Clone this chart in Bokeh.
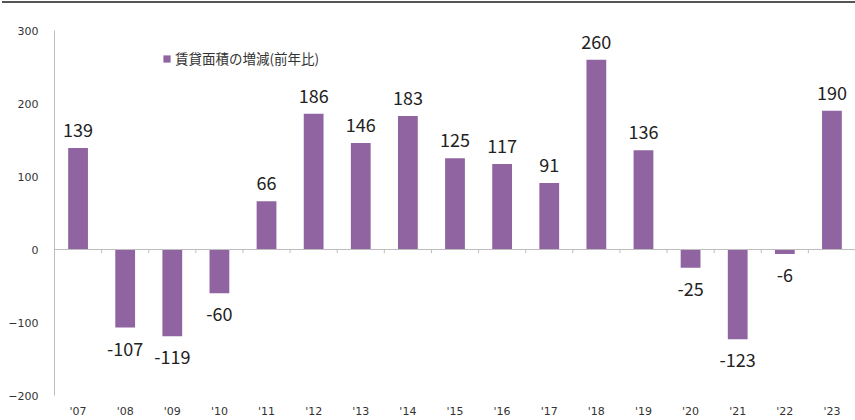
from bokeh.plotting import figure
from bokeh.models import ColumnDataSource, Range1d, FixedTicker, Legend, LegendItem, Span, Div
from bokeh.layouts import column
from bokeh.core.properties import value
from bokeh.embed import file_html
from bokeh.resources import INLINE

years = ["'07", "'08", "'09", "'10", "'11", "'12", "'13", "'14", "'15", "'16",
         "'17", "'18", "'19", "'20", "'21", "'22", "'23"]
changes = [139, -107, -119, -60, 66, 186, 146, 183, 125, 117, 91, 260, 136, -25, -123, -6, 190]
y_ticks = [-200, -100, 0, 100, 200, 300]
series_name = "賃貸面積の増減(前年比)"

BAR = "#8f64a1"
xs = list(range(len(years)))
src = ColumnDataSource(dict(
    x=xs, v=changes, lbl=[str(v) for v in changes],
    off=[-11 if v >= 0 else 14 for v in changes],
    base=["bottom" if v >= 0 else "top" for v in changes],
))

p = figure(width=855, height=412, output_backend="svg", toolbar_location=None,
           x_range=Range1d(-0.5, len(years) - 0.5), y_range=Range1d(-200, 300),
           min_border_left=54, min_border_right=0, min_border_top=22, min_border_bottom=25)
p.outline_line_color = None
p.grid.visible = False
p.background_fill_color = "white"

r = p.vbar(x="x", top="v", bottom=0, width=0.42, source=src, fill_color=BAR, line_color=None)
p.text(x="x", y="v", text="lbl", source=src, text_align="center", text_baseline="base",
       y_offset="off", text_font=value("Noto Sans CJK JP"), text_font_size="18px",
       text_color="#222222")

# zero line
p.add_layout(Span(location=0, dimension="width", line_color="#bdbdbd", line_width=1.2))
# small category boundary ticks below zero line
bx = [i + 0.5 for i in range(len(years) - 1)]
p.segment(x0=bx, x1=bx, y0=[0] * len(bx), y1=[-5] * len(bx), line_color="#bdbdbd", line_width=1)

p.yaxis.ticker = FixedTicker(ticks=y_ticks)
p.yaxis.axis_line_color = "#bdbdbd"
p.yaxis.major_tick_line_color = None
p.yaxis.minor_tick_line_color = None
p.yaxis.major_tick_out = 0
p.yaxis.major_tick_in = 0
p.yaxis.major_label_text_font = "DejaVu Sans"
p.yaxis.major_label_text_font_size = "11px"
p.yaxis.major_label_text_color = "#333333"
p.yaxis.major_label_standoff = 16

p.xaxis.ticker = FixedTicker(ticks=xs)
p.xaxis.major_label_overrides = {i: y for i, y in enumerate(years)}
p.xaxis.axis_line_color = None
p.xaxis.major_tick_line_color = None
p.xaxis.minor_tick_line_color = None
p.xaxis.major_tick_out = 0
p.xaxis.major_tick_in = 0
p.xaxis.major_label_text_font = "DejaVu Sans"
p.xaxis.major_label_text_font_size = "11px"
p.xaxis.major_label_text_color = "#333333"
p.xaxis.major_label_standoff = 9

legend = Legend(items=[LegendItem(label=series_name, renderers=[r])], location=(108, 327),
                border_line_color=None, background_fill_alpha=0,
                label_text_font="Noto Sans CJK JP", label_text_font_size="13.5px",
                label_text_color="#333333", glyph_width=9, glyph_height=9,
                label_standoff=4, padding=0, margin=0)
p.add_layout(legend)

top_rule = Div(text="", width=853, height=2,
               styles={"background-color": "#555555", "margin-top": "1px", "margin-left": "2px"})
layout = column(top_rule, p, spacing=0)

open("out.html", "w").write(file_html(layout, INLINE))
